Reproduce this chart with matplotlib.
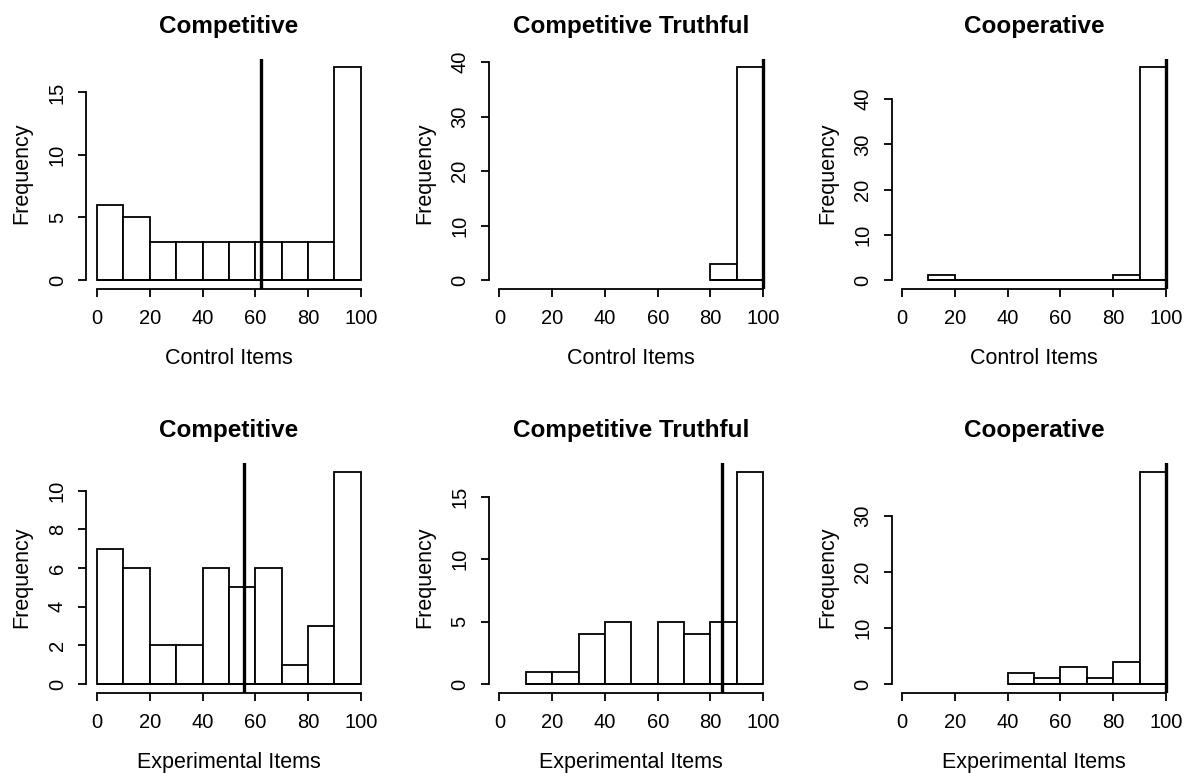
import numpy as np
from matplotlib import pyplot as plt

plt.rcParams['font.family'] = ['Liberation Sans', 'DejaVu Sans']

titles = ['Competitive', 'Competitive Truthful', 'Cooperative',
          'Competitive', 'Competitive Truthful', 'Cooperative']
xlabels = ['Control Items'] * 3 + ['Experimental Items'] * 3

# first bin edge of each histogram, bins are 10 wide
bin_start = [0, 80, 10, 0, 10, 40]
counts = [
    [6, 5, 3, 3, 3, 3, 3, 3, 3, 17],
    [3, 39],
    [1, 0, 0, 0, 0, 0, 0, 1, 47],
    [7, 6, 2, 2, 6, 5, 6, 1, 3, 11],
    [1, 1, 4, 5, 0, 5, 4, 5, 17],
    [2, 1, 3, 1, 4, 38],
]
# position of the vertical reference line
ref_line = [62.2, 100, 100, 55.9, 84.5, 100]
yticks = [
    [0, 5, 10, 15],
    [0, 10, 20, 30, 40],
    [0, 10, 20, 30, 40],
    [0, 2, 4, 6, 8, 10],
    [0, 5, 10, 15],
    [0, 10, 20, 30],
]
xticks = [0, 20, 40, 60, 80, 100]

W, H = 1187, 773
fig = plt.figure(figsize=(W / 100, H / 100), dpi=100)

lefts = [86.4, 488.8, 891.5]
bottoms = [288.5, 692.5]
pw, ph = 285.0, 229.5

for i in range(6):
    row, col = i // 3, i % 3
    ax = fig.add_axes([lefts[col] / W, (H - bottoms[row]) / H, pw / W, ph / H])
    c = np.array(counts[i])
    edges = bin_start[i] + 10 * np.arange(len(c))
    ax.bar(edges, c, width=10, align='edge', color='white',
           edgecolor='black', linewidth=1.3)
    # baseline so empty bins still show as a flat line
    ax.hlines(0, edges[0], edges[-1] + 10, color='black', linewidth=1.3)
    ymax = c.max()
    ax.set_xlim(-4, 104)
    ax.set_ylim(-0.04 * ymax, 1.04 * ymax)
    ax.axvline(ref_line[i], color='black', linewidth=2.4)

    for s in ['top', 'right']:
        ax.spines[s].set_visible(False)
    ax.spines['left'].set_bounds(yticks[i][0], yticks[i][-1])
    ax.spines['bottom'].set_bounds(0, 100)
    ax.spines['left'].set_linewidth(1.3)
    ax.spines['bottom'].set_linewidth(1.3)

    ax.set_xticks(xticks)
    ax.set_yticks(yticks[i])
    ax.set_yticklabels([str(v) for v in yticks[i]], rotation=90, va='center')
    ax.tick_params(axis='both', length=6, width=1.3, labelsize=14.5)
    ax.tick_params(axis='x', pad=9)
    ax.tick_params(axis='y', pad=8)

    ax.set_title(titles[i], fontsize=17.5, fontweight='bold', pad=19)
    ax.set_xlabel(xlabels[i], fontsize=15.5, labelpad=14)
    ax.set_ylabel('Frequency', fontsize=15.5, labelpad=11)

fig.savefig('out.png', dpi=100)
